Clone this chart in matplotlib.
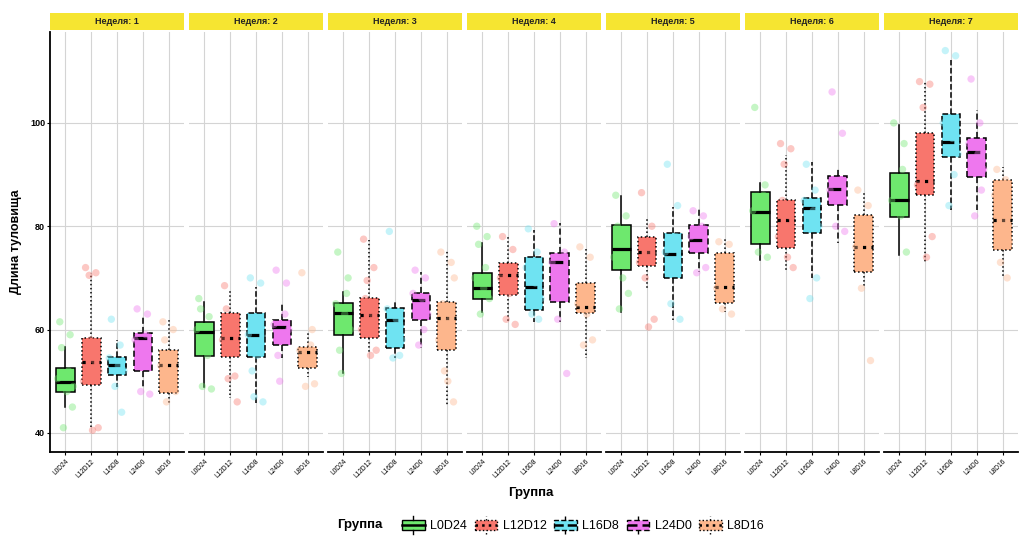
import matplotlib
matplotlib.use("Agg")
import matplotlib.pyplot as plt
from matplotlib.patches import Rectangle, Patch
from matplotlib.lines import Line2D
from matplotlib.legend_handler import HandlerBase
import numpy as np

plt.rcParams['font.family'] = ['Liberation Sans', 'DejaVu Sans']

groups = ['L0D24', 'L12D12', 'L16D8', 'L24D0', 'L8D16']
weeks = [1, 2, 3, 4, 5, 6, 7]
colors = ['#6EE86E', '#F8766D', '#6FE3F2', '#EE77EE', '#FDB68C']
styles = ['-', ':', '--', (0, (4, 2)), ':']

# box stats, rows = weeks, columns = groups (order as in `groups`)
whis_lo = [[45.0, 41.2, 48.9, 48.9, 45.8],
           [48.9, 46.8, 45.8, 54.5, 50.8],
           [51.6, 55.5, 54.5, 56.4, 45.4],
           [63.4, 61.5, 61.5, 61.5, 54.5],
           [63.4, 67.7, 61.9, 71.2, 63.4],
           [73.5, 71.2, 70.0, 76.8, 68.3],
           [74.5, 73.1, 83.2, 83.2, 70.2]]
q1 = [[47.9, 49.3, 51.2, 51.9, 47.7],
      [54.9, 54.7, 54.7, 57.0, 52.6],
      [59.0, 58.4, 56.4, 61.9, 56.0],
      [65.9, 66.7, 63.8, 65.4, 63.2],
      [71.5, 72.3, 70.0, 74.8, 65.2],
      [76.6, 75.8, 78.7, 84.1, 71.2],
      [81.8, 86.1, 93.4, 89.5, 75.4]]
med = [[49.9, 53.7, 53.2, 58.4, 53.2],
       [59.6, 58.4, 59.0, 60.5, 55.7],
       [63.2, 62.8, 61.9, 65.7, 62.3],
       [68.1, 70.6, 68.3, 73.1, 64.4],
       [75.6, 75.0, 74.6, 77.4, 68.3],
       [82.8, 81.2, 83.5, 87.2, 76.0],
       [85.1, 88.8, 96.3, 94.4, 81.2]]
q3 = [[52.6, 58.4, 54.7, 59.4, 56.0],
      [61.5, 63.2, 63.2, 61.9, 56.6],
      [65.2, 66.1, 64.2, 67.1, 65.4],
      [71.0, 72.9, 74.1, 74.8, 69.0],
      [80.3, 78.0, 78.7, 80.3, 74.8],
      [86.6, 85.1, 85.5, 89.7, 82.2],
      [90.3, 98.1, 101.7, 97.1, 89.0]]
whis_hi = [[56.6, 71.0, 58.0, 62.8, 61.9],
           [65.4, 67.7, 68.3, 65.4, 59.6],
           [67.3, 77.4, 65.4, 71.2, 75.4],
           [76.8, 77.9, 79.3, 80.6, 76.0],
           [85.9, 81.6, 83.7, 83.5, 77.9],
           [88.4, 93.8, 92.5, 91.3, 86.5],
           [99.6, 107.9, 112.2, 102.5, 91.5]]

# individual (jittered) observations, one list per week
pts_L0D24 = [[61.5, 59, 41, 45, 48, 50.5, 52, 56.5, 49],
             [66, 62.5, 49, 48.5, 57, 60, 55, 64],
             [75, 70, 51.5, 60, 63, 65, 67, 56],
             [80, 78, 63, 66, 68, 70, 72, 76.5],
             [86, 82, 64, 67, 70, 74, 77, 80],
             [103, 88, 75, 74, 78, 83, 86, 81],
             [100, 96, 89, 75, 82, 85, 91, 87]]
pts_L12D12 = [[72, 71, 70.5, 41, 40.5, 50, 54, 57, 52, 58],
              [68.5, 51, 50.5, 46, 56, 58, 61, 64],
              [77.5, 72, 69.5, 56, 55, 60, 63, 66],
              [78, 75.5, 62, 61, 67, 70, 72, 69],
              [86.5, 80, 70, 62, 60.5, 73, 75, 77],
              [96, 95, 92, 72, 74, 78, 82, 85],
              [108, 107.5, 103, 78, 74, 88, 92, 97]]
pts_L16D8 = [[62, 44, 49, 52, 53, 54.5, 57],
             [70, 69, 47, 46, 55, 59, 62, 52],
             [79, 55, 54.5, 58, 62, 64, 60],
             [79.5, 62, 63, 66, 69, 72, 75],
             [92, 84, 65, 62, 72, 75, 78],
             [92, 70, 66, 80, 83, 85, 87],
             [114, 113, 84, 94, 97, 100, 90]]
pts_L24D0 = [[64, 63, 48, 47.5, 55, 58, 59, 53],
             [71.5, 69, 50, 60, 58, 61, 63, 55],
             [71.5, 70, 57, 63, 66, 67, 60],
             [80.5, 75, 62, 51.5, 68, 73, 74],
             [83, 82, 71, 72, 76, 78, 80],
             [106, 98, 80, 79, 85, 87, 89],
             [108.5, 87, 82, 91, 94, 96, 100]]
pts_L8D16 = [[61.5, 60, 46, 48, 50, 53, 55, 58],
             [71, 60, 49, 49.5, 54, 56, 57],
             [75, 73, 52, 46, 50, 58, 62, 65, 70],
             [76, 74, 57, 58, 63, 65, 68],
             [77, 76.5, 64, 63, 66, 68, 72],
             [87, 84, 68, 54, 72, 76, 80],
             [91, 70, 73, 77, 81, 86, 89]]
points = [pts_L0D24, pts_L12D12, pts_L16D8, pts_L24D0, pts_L8D16]

jitter = [-0.22, 0.18, -0.08, 0.27, 0.05, -0.3, 0.12, -0.15, 0.3, -0.02]

fig, axes = plt.subplots(1, 7, figsize=(10.25, 5.4), dpi=100, sharey=True)
fig.subplots_adjust(left=50/1025, right=1018/1025, top=1-32/540,
                    bottom=1-452/540, wspace=0.037)

for w, ax in enumerate(axes):
    for g in range(5):
        stats = [dict(med=med[w][g], q1=q1[w][g], q3=q3[w][g],
                      whislo=whis_lo[w][g], whishi=whis_hi[w][g], fliers=[])]
        ls = styles[g]
        ax.bxp(stats, positions=[g + 1], widths=0.72, patch_artist=True,
               showcaps=False,
               boxprops=dict(facecolor=colors[g], edgecolor='black', linewidth=1.1, linestyle=ls),
               whiskerprops=dict(color='black', linewidth=1.1, linestyle=ls),
               medianprops=dict(color='black', linewidth=2.3, linestyle=ls),
               zorder=2)
        ys = points[g][w]
        xs = [g + 1 + jitter[i % len(jitter)] for i in range(len(ys))]
        ax.scatter(xs, ys, s=28, color=colors[g], alpha=0.4, edgecolors='none', zorder=3)

    ax.set_xlim(0.4, 5.6)
    ax.set_ylim(36.3, 117.6)
    ax.set_yticks([40, 60, 80, 100])
    ax.set_xticks(range(1, 6))
    ax.set_xticklabels(groups, rotation=45, ha='right', va='top', fontsize=4.8,
                       rotation_mode='anchor')
    ax.grid(True, color='#D4D4D4', linewidth=0.8)
    ax.set_axisbelow(True)
    for s in ['top', 'right']:
        ax.spines[s].set_visible(False)
    ax.spines['bottom'].set_linewidth(1.3)
    ax.tick_params(axis='x', length=2.5, width=0.8, pad=2)
    if w == 0:
        ax.spines['left'].set_linewidth(1.3)
        ax.tick_params(axis='y', length=2.5, width=0.8, labelsize=6.5, pad=1)
        for lab in ax.get_yticklabels():
            lab.set_fontweight('bold')
    else:
        ax.spines['left'].set_visible(False)
        ax.tick_params(axis='y', length=0, labelleft=False)

    # facet strip
    ax.add_patch(Rectangle((0, 1 + 2/420), 1, 17/420, transform=ax.transAxes,
                           clip_on=False, facecolor='#F6E531', edgecolor='none'))
    ax.text(0.5, 1 + 10.5/420, f'Неделя: {weeks[w]}', transform=ax.transAxes,
            ha='center', va='center', fontsize=6.5, fontweight='bold', color='#222222')

axes[0].set_ylabel('Длина туловища', fontsize=9, fontweight='bold', labelpad=6)
fig.text(0.518, 1 - 493/540, 'Группа', ha='center', va='center', fontsize=9.5, fontweight='bold')


class BoxHandler(HandlerBase):
    def create_artists(self, legend, orig_handle, xdescent, ydescent, width, height, fontsize, trans):
        x0, y0 = -xdescent, -ydescent
        ls = orig_handle.get_linestyle()
        rect = Rectangle((x0, y0 + 0.2 * height), width, 0.6 * height,
                         facecolor=orig_handle.get_facecolor(), edgecolor='black',
                         linewidth=1.0, linestyle=ls, transform=trans)
        medl = Line2D([x0, x0 + width], [y0 + 0.5 * height] * 2, color='black',
                      linewidth=1.8, linestyle=ls, transform=trans)
        wlo = Line2D([x0 + width / 2] * 2, [y0 - 0.05 * height, y0 + 0.2 * height],
                     color='black', linewidth=1.0, linestyle=ls, transform=trans)
        whi = Line2D([x0 + width / 2] * 2, [y0 + 0.8 * height, y0 + 1.05 * height],
                     color='black', linewidth=1.0, linestyle=ls, transform=trans)
        return [rect, medl, wlo, whi]


handles = [Patch(facecolor=colors[g], linestyle=styles[g], label=groups[g]) for g in range(5)]
fig.legend(handles=handles, loc='center', bbox_to_anchor=(583/1025, 1 - 525/540), ncol=5,
           frameon=False, fontsize=9, handlelength=1.8, handleheight=1.6,
           handletextpad=0.45, columnspacing=0.6, borderpad=0,
           handler_map={Patch: BoxHandler()})
fig.text(360/1025, 1 - 525/540, 'Группа', ha='center', va='center', fontsize=9.5, fontweight='bold')

plt.savefig('out.png', dpi=100)
